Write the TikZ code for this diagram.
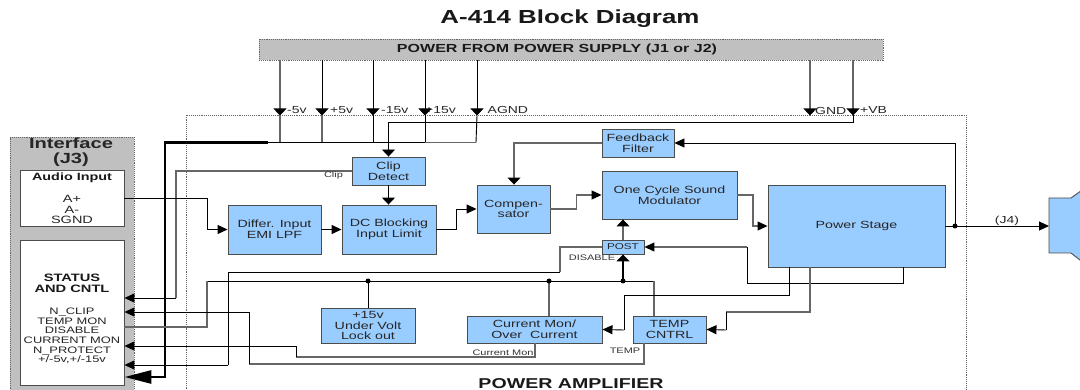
\documentclass[tikz,border=0pt]{standalone}
\usepackage{fontspec}
\setmainfont[FakeStretch=1.37]{Liberation Sans}
\usetikzlibrary{arrows.meta,calc}
\definecolor{blk}{HTML}{99CCFF}
\definecolor{panel}{HTML}{C0C0C0}
\definecolor{ln}{HTML}{666666}
\newcommand{\fs}[2]{\fontsize{#1}{#2}\selectfont}
\tikzset{
  x=1pt,y=-1pt,
  block/.style={draw=black!70,line width=0.9pt,fill=blk,inner sep=0pt,align=center,font=\fs{10.4}{10.6},text=black!85},
  white box/.style={draw=black!70,line width=0.9pt,fill=white,inner sep=0pt,align=center,font=\fs{10.4}{10.3},text=black!85},
  lab/.style={inner sep=0pt,font=\fs{10.2}{10},text=black!85},
  small lab/.style={inner sep=0pt,font=\fs{8}{9},text=black!80},
  wire/.style={line width=0.9pt,draw=black},
  gwire/.style={line width=1.1pt,draw=ln},
  to/.style={-{Triangle[width=9pt,length=10pt,color=black,fill=black]}},
  tov/.style={-{Triangle[width=13pt,length=7pt,color=black,fill=black]}},
  dotbox/.style={draw=black!60,line width=0.9pt,densely dotted},
  jct/.style={circle,fill=black,inner sep=0pt,minimum size=5pt},
}
\begin{document}
\begin{tikzpicture}
\clip (0,0) rectangle (1080,390);
\fill[white] (0,0) rectangle (1080,390);
% title
\node[inner sep=0pt,font=\bfseries\fs{18.9}{19},text=black!90] (title) at (570,19) {A-414 Block Diagram};
% power amplifier frame
\draw[dotbox,line width=0.8pt] (186,395) -- (186,115) -- (966,115) -- (966,395);
\node[inner sep=0pt,font=\bfseries\fs{14.3}{15},text=black!90] (amp) at (571,384) {POWER AMPLIFIER};
% power supply
\node[draw=black!60,densely dotted,line width=0.9pt,fill=panel,inner sep=0pt,minimum width=624pt,minimum height=21pt] (psu) at (571,49.5) {};
\node[inner sep=0pt,font=\bfseries\fs{11.7}{12},text=black!90] (psut) at (557,49.5) {POWER FROM POWER SUPPLY (J1 or J2)};
% interface panel
\fill[panel] (10,137) rectangle (134,395);
\draw[dotbox] (10,395) -- (10,137) -- (134,137) -- (134,395);
\node[inner sep=0pt,align=center,font=\bfseries\fs{14.7}{15},text=black!85] (iface) at (71,152.5) {Interface\\(J3)};
\node[white box,minimum width=104pt,minimum height=56pt] (audio) at (72,198) {};
\node[inner sep=0pt,font=\bfseries\fs{10.5}{10},text=black!90] (audiot) at (72,177.5) {Audio Input};
\node[inner sep=0pt,align=center,font=\fs{10.6}{10.5},text=black!85] (audiop) at (72,209.5) {A+\\A-\\SGND};
\node[white box,minimum width=104pt,minimum height=145pt] (status) at (72,312.5) {};
\node[inner sep=0pt,align=center,font=\bfseries\fs{10.7}{11},text=black!90] (statust) at (72,283) {STATUS\\AND CNTL};
\node[inner sep=0pt,align=center,font=\fs{9.4}{9.6},text=black!85] (statusp) at (72,336) {N\_CLIP\\TEMP MON\\DISABLE\\CURRENT MON\\N\_PROTECT\\+/-5v,+/-15v};
% blocks
\node[block,minimum width=93pt,minimum height=49pt] (differ) at (274.5,229.5) {Differ. Input\\EMI LPF};
\node[block,minimum width=94pt,minimum height=49pt] (dc) at (389,229.5) {DC Blocking\\Input Limit};
\node[block,minimum width=73pt,minimum height=28pt] (clip) at (388.5,171) {Clip\\Detect};
\node[block,minimum width=73pt,minimum height=48pt] (comp) at (513.5,209) {Compen-\\sator};
\node[block,minimum width=72pt,minimum height=28pt] (fb) at (638,143) {Feedback\\Filter};
\node[block,minimum width=135pt,minimum height=48pt] (ocsm) at (669.5,195) {One Cycle Sound\\Modulator};
\node[block,minimum width=42pt,minimum height=14pt,font=\fs{8.5}{9}] (post) at (623,247) {POST};
\node[block,minimum width=177pt,minimum height=82pt] (ps) at (856.5,226) {Power Stage};
\node[block,minimum width=94pt,minimum height=35pt] (uvlo) at (368,325.5) {+15v\\Under Volt\\Lock out};
\node[block,minimum width=135pt,minimum height=27pt] (cm) at (534.5,329.5) {Current Mon/\\Over\ \ Current};
\node[block,minimum width=73pt,minimum height=27pt] (temp) at (669.5,329.5) {TEMP\\CNTRL};
% speaker
\draw[draw=black!70,line width=0.9pt,fill=blk] (1085,188) -- (1071,198) -- (1049,198) -- (1049,253) -- (1071,253) -- (1085,264);
\coordinate (spk) at (1049,226);
% power rail tips
\foreach \n/\x in {m5/280,p5/322,m15/373,p15/425,ag/477,gnd/810,vb/853}{
  \coordinate (t\n) at (\x,115.5);
}
\coordinate (busl) at (165,142.5);
\coordinate (busm) at (268,142.5);
\coordinate (busa) at (425,142.5);
\coordinate (busr) at (476,142.5);
\coordinate (busc) at (165,377);
% rail labels
\node[lab,anchor=west] (lm5) at (287,110) {-5v};
\node[lab,anchor=west] (lp5) at (330,110) {+5v};
\node[lab,anchor=west] (lm15) at (381,110.5) {-15v};
\node[lab,anchor=west] (lp15) at (425,110) {+15v};
\node[lab,anchor=west] (lag) at (487.5,110) {AGND};
\node[lab,anchor=west] (lgnd) at (815,110.5) {GND};
\node[lab,anchor=west] (lvb) at (860,110) {+VB};
% rails from the supply
\draw[gwire,tov] (psu.south -| tm5) -- (tm5);
\draw[wire,tov] (psu.south -| tp5) -- (tp5);
\draw[wire,tov] (psu.south -| tm15) -- (tm15);
\draw[wire,tov] (psu.south -| tp15) -- (tp15);
\draw[wire,tov] (psu.south -| tag) -- (tag);
\draw[gwire,tov] (psu.south -| tgnd) -- (tgnd);
\draw[gwire,tov] (psu.south -| tvb) -- (tvb);
\draw[gwire] (tm5) -- (tm5 |- busl);
\draw[gwire] (tp5) -- (tp5 |- busl);
\draw[wire] (tm15) -- (tm15 |- busl);
\draw[wire] (tp15) -- (tp15 |- busl);
\draw[wire] (tag) -- (busr);
% heavy bus
\draw[line width=1.5pt] (busm) -- (busa);
\draw[gwire] (busa) -- (busr);
\draw[line width=2.8pt,-{Triangle[width=13pt,length=27pt]}] (busm) -- (busl) -- (busc) -- (status.east |- busc);
% +VB to clip detect
\draw[wire,tov] (tvb) -- (853,122) -- (clip.north |- 0,122) -- (clip.north);
% clip output
\draw[gwire] (clip.west) -- (176,171) -- (176,298);
\draw[wire,to] (176,298) -- (status.east |- 0,298);
\node[small lab] (lclip) at (333.5,175) {Clip};
% signal chain
\draw[wire,to] (audio.east) -- (207,198) -- (207,229.5) -- (differ.west);
\draw[wire,line width=1.2pt,to] (differ.east) -- (dc.west);
\draw[wire,line width=1.2pt,tov] (clip.south) -- (clip.south |- dc.north);
\draw[wire,to] (dc.east) -- (456.7,229.5) -- (456.7,209) -- (comp.west);
\draw[gwire,to] (comp.east) -- (576.7,209) -- (576.7,195) -- (ocsm.west);
\draw[gwire,to] (ocsm.east) -- (753,195) -- (753,226) -- (ps.west);
\draw[gwire,tov] (fb.west) -- (514,143) -- (comp.north -| 514,0);
\coordinate (fbj) at (955,226);
\draw[wire,to] (fbj) -- (955,143) -- (fb.east);
% output
\draw[wire,to] (ps.east) -- (spk);
\node[jct] (outdot) at (fbj) {};
\node[lab] (lj4) at (1007,220.5) {(J4)};
% POST
\draw[gwire,tov] (post.north) -- (post.north |- ocsm.south);
\draw[line width=1.5pt,tov] (623,281) -- (post.south);
\draw[gwire,to] (747,247) -- (post.east);
\draw[wire] (747,247) -- (747,283) -- (903,283) -- (ps.south -| 903,0);
\node[small lab] (ldis) at (592,258) {DISABLE};
% disable line to status
\draw[gwire] (post.west) -- (560,247) -- (560,272);
\draw[wire] (560,272) -- (228,272) -- (228,365);
\draw[wire,to] (228,365) -- (status.east |- 0,365);
% fault line
\coordinate (fl) at (207,281);
\draw[wire] (fl) -- (654,281);
\draw[gwire] (654,281) -- (temp.north -| 654,0);
\draw[gwire] (fl) -- (207,327) -- (status.east |- 0,327);
\draw[wire] (368,281) -- (uvlo.north);
\draw[gwire] (549,281) -- (cm.north -| 549,0);
\node[jct] (j1) at (368,281) {};
\node[jct] (j2) at (549,281) {};
\node[jct] (j3) at (623,281) {};
% power stage to current mon / temp
\draw[wire] (ps.south -| 789,0) -- (789,295.5) -- (624,295.5) -- (624,330);
\draw[wire,to] (624,330) -- (cm.east);
\draw[gwire] (ps.south -| 810,0) -- (810,312) -- (726,312);
\draw[wire] (726,312) -- (726,330);
\draw[wire,to] (726,330) -- (temp.east);
% monitor lines back
\draw[gwire] (cm.south -| 535,0) -- (535,357) -- (296,357);
\draw[wire] (296,357) -- (296,346);
\draw[wire,to] (296,346) -- (status.east |- 0,346);
\node[small lab] (lcm) at (503,353) {Current Mon};
\draw[gwire] (temp.south -| 644,0) -- (644,364) -- (249,364);
\draw[wire] (249,364) -- (249,312);
\draw[wire,to] (249,312) -- (status.east |- 0,312);
\node[small lab] (ltemp) at (625,351) {TEMP};
\end{tikzpicture}
\end{document}
